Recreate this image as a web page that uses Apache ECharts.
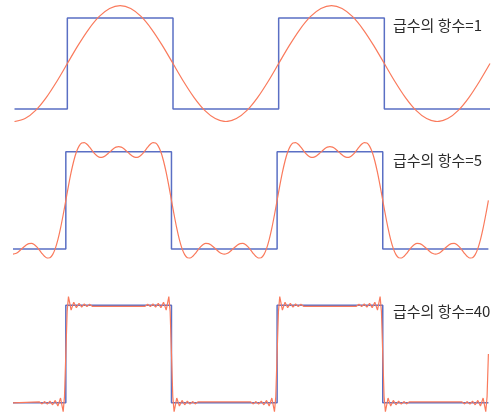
<!DOCTYPE html>
<html>
<head>
<meta charset="utf-8">
<script src="https://cdn.jsdelivr.net/npm/echarts@6/dist/echarts.min.js"></script>
<style>
html,body{margin:0;padding:0;background:#fff;}
#chart{width:502px;height:414px;}
</style>
</head>
<body>
<div id="chart"></div>
<script>
// ---- data (t in half-periods of the square wave) ----
const T_START = -0.5;
const SQUARE_T = [-0.5, 0, 0, 1, 1, 2, 2, 3, 3, 4];
const SQUARE_Y = [0, 0, 1, 1, 0, 0, 1, 1, 0, 0];

const N1_STEP = 0.1;
const N1_Y = [-0.137, -0.105, -0.015, 0.126, 0.303, 0.500,
  0.697, 0.874, 1.015, 1.105, 1.137, 1.105, 1.015, 0.874, 0.697, 0.500,
  0.303, 0.126, -0.015, -0.105, -0.137, -0.105, -0.015, 0.126, 0.303, 0.500,
  0.697, 0.874, 1.015, 1.105, 1.137, 1.105, 1.015, 0.874, 0.697, 0.500,
  0.303, 0.126, -0.015, -0.105, -0.137, -0.105, -0.015, 0.126, 0.303, 0.500];

const N5_STEP = 0.025;
const N5_Y = [
  -0.052, -0.046, -0.030, -0.006, 0.019, 0.042, 0.056, 0.058, 0.047, 0.023, -0.010, -0.046, -0.076, -0.093, -0.089, -0.057, 0.004, 0.096, 0.214, 0.352, 0.500,
  0.648, 0.786, 0.904, 0.996, 1.057, 1.089, 1.093, 1.076, 1.046, 1.010, 0.977, 0.953, 0.942, 0.944, 0.958, 0.981, 1.006, 1.030, 1.046, 1.052,
  1.046, 1.030, 1.006, 0.981, 0.958, 0.944, 0.942, 0.953, 0.977, 1.010, 1.046, 1.076, 1.093, 1.089, 1.057, 0.996, 0.904, 0.786, 0.648, 0.500,
  0.352, 0.214, 0.096, 0.004, -0.057, -0.089, -0.093, -0.076, -0.046, -0.010, 0.023, 0.047, 0.058, 0.056, 0.042, 0.019, -0.006, -0.030, -0.046, -0.052,
  -0.046, -0.030, -0.006, 0.019, 0.042, 0.056, 0.058, 0.047, 0.023, -0.010, -0.046, -0.076, -0.093, -0.089, -0.057, 0.004, 0.096, 0.214, 0.352, 0.500,
  0.648, 0.786, 0.904, 0.996, 1.057, 1.089, 1.093, 1.076, 1.046, 1.010, 0.977, 0.953, 0.942, 0.944, 0.958, 0.981, 1.006, 1.030, 1.046, 1.052,
  1.046, 1.030, 1.006, 0.981, 0.958, 0.944, 0.942, 0.953, 0.977, 1.010, 1.046, 1.076, 1.093, 1.089, 1.057, 0.996, 0.904, 0.786, 0.648, 0.500,
  0.352, 0.214, 0.096, 0.004, -0.057, -0.089, -0.093, -0.076, -0.046, -0.010, 0.023, 0.047, 0.058, 0.056, 0.042, 0.019, -0.006, -0.030, -0.046, -0.052,
  -0.046, -0.030, -0.006, 0.019, 0.042, 0.056, 0.058, 0.047, 0.023, -0.010, -0.046, -0.076, -0.093, -0.089, -0.057, 0.004, 0.096, 0.214, 0.352, 0.500
];

const N40_T = [-0.5,
  -0.25, -0.225, -0.2, -0.175, -0.15, -0.125, -0.1, -0.075, -0.05, -0.025, -0.0125, 0, 0.0125, 0.025, 0.05, 0.075, 0.1, 0.125, 0.15, 0.175, 0.2, 0.225, 0.25,
  0.75, 0.775, 0.8, 0.825, 0.85, 0.875, 0.9, 0.925, 0.95, 0.975, 0.9875, 1, 1.0125, 1.025, 1.05, 1.075, 1.1, 1.125, 1.15, 1.175, 1.2, 1.225, 1.25,
  1.75, 1.775, 1.8, 1.825, 1.85, 1.875, 1.9, 1.925, 1.95, 1.975, 1.9875, 2, 2.0125, 2.025, 2.05, 2.075, 2.1, 2.125, 2.15, 2.175, 2.2, 2.225, 2.25,
  2.75, 2.775, 2.8, 2.825, 2.85, 2.875, 2.9, 2.925, 2.95, 2.975, 2.9875, 3, 3.0125, 3.025, 3.05, 3.075, 3.1, 3.125, 3.15, 3.175, 3.2, 3.225, 3.25,
  3.75, 3.775, 3.8, 3.825, 3.85, 3.875, 3.9, 3.925, 3.95, 3.975, 3.9875, 4];
const N40_Y = [0.0,
  0.010, -0.011, 0.013, -0.014, 0.017, -0.020, 0.025, -0.033, 0.049, -0.090, 0.064, 0.500, 0.936, 1.090, 0.951, 1.033, 0.975, 1.020, 0.983, 1.014, 0.987, 1.011, 0.990,
  0.990, 1.011, 0.987, 1.014, 0.983, 1.020, 0.975, 1.033, 0.951, 1.090, 0.936, 0.500, 0.064, -0.090, 0.049, -0.033, 0.025, -0.020, 0.017, -0.014, 0.013, -0.011, 0.010,
  0.010, -0.011, 0.013, -0.014, 0.017, -0.020, 0.025, -0.033, 0.049, -0.090, 0.064, 0.500, 0.936, 1.090, 0.951, 1.033, 0.975, 1.020, 0.983, 1.014, 0.987, 1.011, 0.990,
  0.990, 1.011, 0.987, 1.014, 0.983, 1.020, 0.975, 1.033, 0.951, 1.090, 0.936, 0.500, 0.064, -0.090, 0.049, -0.033, 0.025, -0.020, 0.017, -0.014, 0.013, -0.011, 0.010,
  0.010, -0.011, 0.013, -0.014, 0.017, -0.020, 0.025, -0.033, 0.049, -0.090, 0.064, 0.500];

const LABELS = ['급수의 항수=1', '급수의 항수=5', '급수의 항수=40'];

// ---- build ----
const pairs = (ts, ys) => ys.map((y, i) => [ts[i], y]);
const stepPairs = (start, step, ys) => ys.map((y, i) => [+(start + i * step).toFixed(4), y]);

const square = pairs(SQUARE_T, SQUARE_Y);
const approx = [
  stepPairs(T_START, N1_STEP, N1_Y),
  stepPairs(T_START, N5_STEP, N5_Y),
  pairs(N40_T, N40_Y)
];
const approxY = [N1_Y, N5_Y, N40_Y];

const grids = [
  {left: 14.5, width: 475.5, top: 5.6, height: 115.9},
  {left: 13, width: 475.4, top: 142.6, height: 115.5},
  {left: 13, width: 475.4, top: 296.6, height: 115.0}
];
const labelTops = [18, 153, 304];

const BLUE = '#5a6fc4', RED = '#fa7a5c';

const option = {
  animation: false,
  backgroundColor: '#ffffff',
  grid: grids,
  xAxis: grids.map((g, i) => ({type: 'value', gridIndex: i, min: -0.5, max: 4, show: false})),
  yAxis: grids.map((g, i) => ({
    type: 'value', gridIndex: i, show: false,
    min: Math.min(...approxY[i]), max: Math.max(...approxY[i])
  })),
  series: [],
  graphic: LABELS.map((t, i) => ({
    type: 'text', left: 393, top: labelTops[i], z: 100,
    style: {text: t, font: '15px "Noto Sans CJK KR"', fill: '#2a2a2a'}
  }))
};
for (let i = 0; i < 3; i++) {
  option.series.push({
    type: 'line', xAxisIndex: i, yAxisIndex: i, data: square,
    showSymbol: false, lineStyle: {color: BLUE, width: 1.5}, z: 2
  });
  option.series.push({
    type: 'line', xAxisIndex: i, yAxisIndex: i, data: approx[i],
    showSymbol: false, smooth: i === 2 ? false : 0.3,
    lineStyle: {color: RED, width: 1.2}, z: 3
  });
}
const chart = echarts.init(document.getElementById('chart'), null, {renderer: 'canvas'});
chart.setOption(option);
</script>
</body>
</html>
